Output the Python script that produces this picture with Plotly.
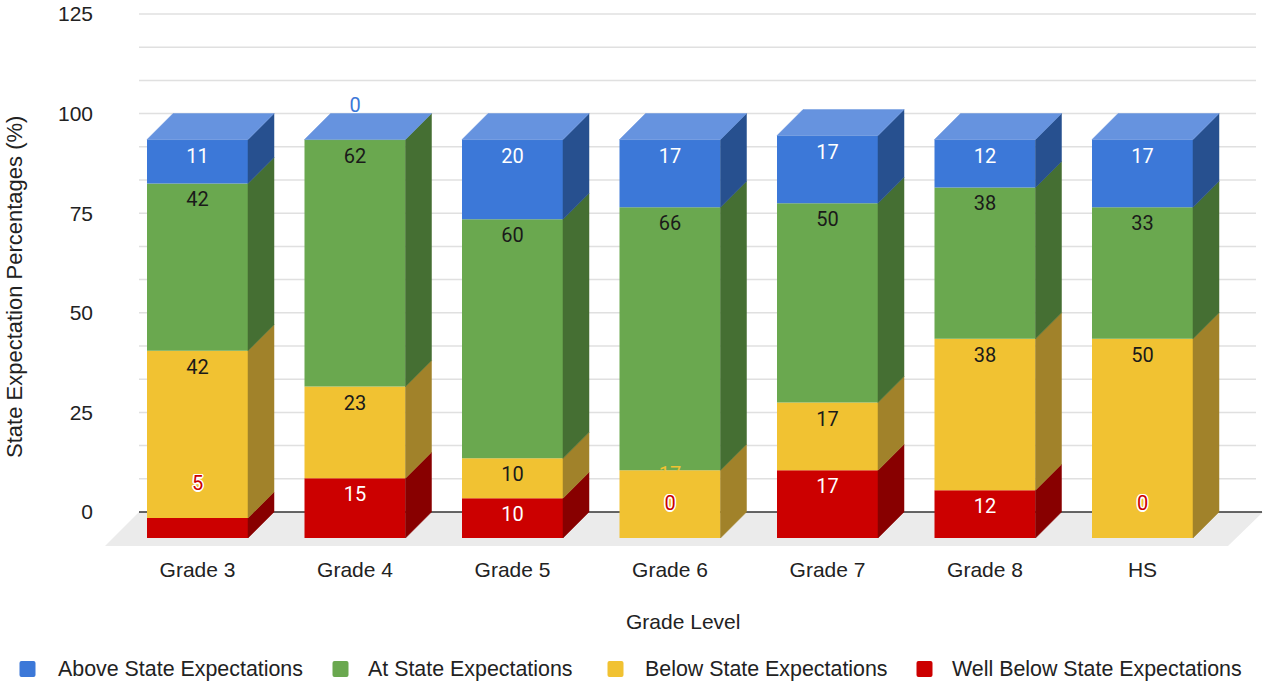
import plotly.graph_objects as go

# ---------------- data ----------------
categories = ["Grade 3", "Grade 4", "Grade 5", "Grade 6", "Grade 7", "Grade 8", "HS"]
well_below = [5, 15, 10, 0, 17, 12, 0]
below = [42, 23, 10, 17, 17, 38, 50]
at_level = [42, 62, 60, 66, 50, 38, 33]
above = [11, 0, 20, 17, 17, 12, 17]
y_ticks = [0, 25, 50, 75, 100, 125]

# stacking order bottom -> top
series = [
    dict(name="Well Below State Expectations", values=well_below,
         front="#cc0000", side="#880000", text="#ffffff"),
    dict(name="Below State Expectations", values=below,
         front="#f1c232", side="#a1822a", text="#1a1a1a"),
    dict(name="At State Expectations", values=at_level,
         front="#6aa84f", side="#456f33", text="#1a1a1a"),
    dict(name="Above State Expectations", values=above,
         front="#3c78d8", side="#27508f", text="#ffffff"),
]
TOP_COLOR = "#6693df"
legend_order = [3, 2, 1, 0]

# ---------------- geometry / layout constants ----------------
FIG_W, FIG_H = 1263, 685
ML, MR, MT, MB = 100, 0, 10, 130
PLOT_W = FIG_W - ML - MR
PLOT_H = FIG_H - MT - MB
X0_PX, X_STEP = 197.5, 157.5        # pixel centre of first category, px per category
Y0_PX, Y_UNIT = 512.0, 3.984        # pixel of value 0 on back wall, px per unit
DEPTH_PX = 26.0
D = DEPTH_PX / Y_UNIT               # depth in y units
DX = DEPTH_PX / X_STEP              # depth in x units
BAR_W = 101.0 / X_STEP

def px_to_x(px):
    return (px - X0_PX) / X_STEP

def py_to_y(py):
    return (Y0_PX - py) / Y_UNIT

x_range = [px_to_x(ML), px_to_x(FIG_W - MR)]
y_range = [py_to_y(FIG_H - MB), py_to_y(MT)]

def paper_x(px):
    return (px - ML) / PLOT_W

def paper_y(py):
    return (FIG_H - MB - py) / PLOT_H

FONT = "Arial, Liberation Sans, sans-serif"
LABEL_FONT = "Roboto, Arial, sans-serif"
TEXT_COLOR = "#222222"

xs = list(range(len(categories)))
fig = go.Figure()

# ---------------- front faces (bars) ----------------
cum = [0.0] * len(categories)
for s in series:
    bases = [c - D for c in cum]
    fig.add_trace(go.Bar(
        x=xs, y=s["values"], base=bases, width=BAR_W,
        marker=dict(color=s["front"], line=dict(width=0)),
        name=s["name"], showlegend=False, hoverinfo="skip",
    ))
    cum = [c + v for c, v in zip(cum, s["values"])]
totals = cum

# ---------------- side faces ----------------
cum = [0.0] * len(categories)
for s in series:
    px_list, py_list = [], []
    for i, v in enumerate(s["values"]):
        if v > 0:
            xr = xs[i] + BAR_W / 2
            y0, y1 = cum[i], cum[i] + v
            px_list += [xr, xr + DX, xr + DX, xr, xr, None]
            py_list += [y0 - D, y0, y1, y1 - D, y0 - D, None]
    fig.add_trace(go.Scatter(
        x=px_list, y=py_list, mode="lines", fill="toself",
        fillcolor=s["side"], line=dict(color=s["side"], width=0.5),
        showlegend=False, hoverinfo="skip",
    ))
    cum = [c + v for c, v in zip(cum, s["values"])]

# ---------------- top faces ----------------
tx, ty = [], []
for i, t in enumerate(totals):
    xl, xr = xs[i] - BAR_W / 2, xs[i] + BAR_W / 2
    tx += [xl, xr, xr + DX, xl + DX, xl, None]
    ty += [t - D, t - D, t, t, t - D, None]
fig.add_trace(go.Scatter(
    x=tx, y=ty, mode="lines", fill="toself", fillcolor=TOP_COLOR,
    line=dict(color=TOP_COLOR, width=0.5), showlegend=False, hoverinfo="skip",
))

# ---------------- data labels ----------------
OUTSIDE_MIN_PX = 30   # segments shorter than this get their label outside
IN_OFF_PX = 18        # inside-end label offset below the segment top
OUT_OFF_PX = 33       # outside label offset above the segment top
inside = dict(x=[], y=[], t=[], c=[])
outside = dict(x=[], y=[], t=[], c=[])
moved = dict(x=[], y=[], t=[], c=[])
cum = [0.0] * len(categories)
prev_out = [None] * len(categories)
for s in series:
    for i, v in enumerate(s["values"]):
        top_front = cum[i] + v - D
        if v * Y_UNIT < OUTSIDE_MIN_PX:
            ly = top_front + OUT_OFF_PX / Y_UNIT
            for k, val in zip("xytc", (xs[i], ly, str(v), s["front"])):
                outside[k].append(val)
            prev_out[i] = ly
        else:
            ly = top_front - IN_OFF_PX / Y_UNIT
            if prev_out[i] is not None and abs(ly - prev_out[i]) * Y_UNIT < 22:
                ly2 = top_front - 6 / Y_UNIT
                for k, val in zip("xytc", (xs[i], ly2, str(v), s["front"])):
                    moved[k].append(val)
            else:
                for k, val in zip("xytc", (xs[i], ly, str(v), s["text"])):
                    inside[k].append(val)
            prev_out[i] = None
    cum = [c + v for c, v in zip(cum, s["values"])]

HALO = ("1.5px 0 0 #fff, -1.5px 0 0 #fff, 0 1.5px 0 #fff, 0 -1.5px 0 #fff, "
        "1px 1px 0 #fff, -1px -1px 0 #fff, 1px -1px 0 #fff, -1px 1px 0 #fff")
for grp, shadow in ((moved, "none"), (inside, "none"), (outside, HALO)):
    fig.add_trace(go.Scatter(
        x=grp["x"], y=grp["y"], text=grp["t"], mode="text",
        textposition="middle center",
        textfont=dict(family=LABEL_FONT, size=20, color=grp["c"], shadow=shadow),
        showlegend=False, hoverinfo="skip", cliponaxis=False,
    ))

# ---------------- floor, gridlines, baseline ----------------
FLOOR_FRONT_PX = 546
floor_front_y = py_to_y(FLOOR_FRONT_PX)
floor_bl, floor_br = px_to_x(139), px_to_x(1263)
floor_fl, floor_fr = px_to_x(105), px_to_x(1228)
shapes = [dict(
    type="path", xref="x", yref="y", layer="below",
    path=f"M{floor_fl},{floor_front_y} L{floor_fr},{floor_front_y} "
         f"L{floor_br},0 L{floor_bl},0 Z",
    fillcolor="#ebebeb", line=dict(width=0),
)]
grid_x1 = px_to_x(1256)
step = 25 / 3
g = step
while g <= 125.01:
    shapes.append(dict(type="line", xref="x", yref="y", layer="below",
                       x0=floor_bl, x1=grid_x1, y0=g, y1=g,
                       line=dict(color="#e0e0e0", width=1.5)))
    g += step
shapes.append(dict(type="line", xref="x", yref="y", layer="below",
                   x0=floor_bl, x1=px_to_x(1262), y0=0, y1=0,
                   line=dict(color="#333333", width=1.5)))

# ---------------- manual legend ----------------
legend_square_px = [27.5, 340.5, 615.5, 924.5]
legend_text_px = [58, 368, 645, 952]
LEG_Y_PX = 669
annotations = []
sq = "M-8,-6 Q-8,-8 -6,-8 L6,-8 Q8,-8 8,-6 L8,6 Q8,8 6,8 L-6,8 Q-8,8 -8,6 Z"
for k, si in enumerate(legend_order):
    s = series[si]
    shapes.append(dict(type="path", xref="paper", yref="paper",
                       xsizemode="pixel", ysizemode="pixel",
                       xanchor=paper_x(legend_square_px[k]),
                       yanchor=paper_y(LEG_Y_PX),
                       path=sq, fillcolor=s["front"], line=dict(width=0)))
    annotations.append(dict(
        xref="paper", yref="paper", x=paper_x(legend_text_px[k] - 2),
        y=paper_y(LEG_Y_PX), xanchor="left", yanchor="middle",
        text=s["name"], showarrow=False,
        font=dict(family=FONT, size=21.4, color=TEXT_COLOR)))

# axis titles
annotations.append(dict(
    xref="paper", yref="paper", x=paper_x(683), y=paper_y(621),
    xanchor="center", yanchor="middle", text="Grade Level", showarrow=False,
    font=dict(family=FONT, size=21, color=TEXT_COLOR)))
annotations.append(dict(
    xref="paper", yref="paper", x=paper_x(14), y=paper_y(287),
    xanchor="center", yanchor="middle", textangle=-90,
    text="State Expectation Percentages (%)", showarrow=False,
    font=dict(family=FONT, size=22, color=TEXT_COLOR)))

fig.update_layout(
    width=FIG_W, height=FIG_H,
    margin=dict(l=ML, r=MR, t=MT, b=MB, autoexpand=False),
    barmode="overlay",
    plot_bgcolor="white", paper_bgcolor="white",
    showlegend=False,
    shapes=shapes, annotations=annotations,
    xaxis=dict(range=x_range, tickvals=xs, ticktext=categories,
               showgrid=False, zeroline=False, showline=False, ticks="",
               tickfont=dict(family=FONT, size=21, color=TEXT_COLOR),
               fixedrange=True),
    yaxis=dict(range=y_range, tickvals=y_ticks, showgrid=False,
               zeroline=False, showline=False, ticks="",
               ticklabelstandoff=6,
               tickfont=dict(family=FONT, size=21, color=TEXT_COLOR),
               fixedrange=True),
)

fig.write_html(
    "out.html",
    config={"displayModeBar": False},
    post_script="document.body.style.margin='0';document.body.style.overflow='hidden';",
)
